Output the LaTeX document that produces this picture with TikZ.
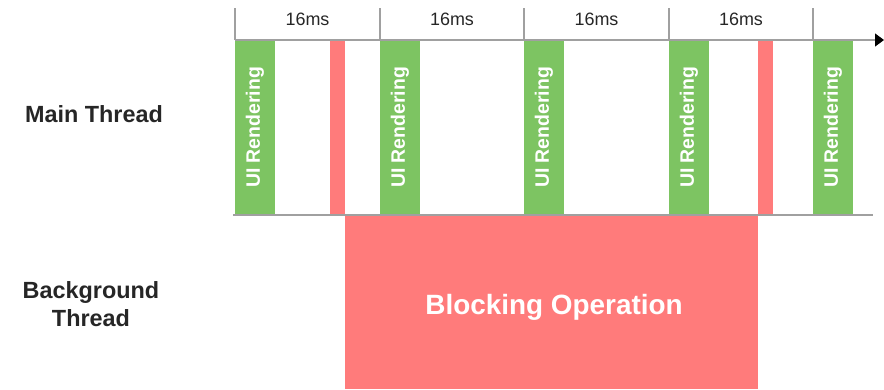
\documentclass[tikz,border=0pt]{standalone}
\usepackage{fontspec}
\setmainfont{Liberation Sans}
\usetikzlibrary{arrows.meta}
\definecolor{uigreen}{HTML}{7DC462}
\definecolor{blockred}{HTML}{FF7B7B}
\definecolor{tickgray}{HTML}{A0A0A0}
\definecolor{labelgray}{HTML}{262626}
\begin{document}
\begin{tikzpicture}[x=1bp, y=-1bp]
    \tikzstyle{ui}=[fill=uigreen, inner sep=0pt, rotate=90,
                    minimum width=175bp, minimum height=40bp, text=white,
                    font=\bfseries\fontsize{19.5}{19.5}\selectfont]
    \tikzstyle{block}=[fill=blockred, draw=none]
    \tikzstyle{tick}=[draw=tickgray, line width=1.1bp]
    \tikzstyle{ms}=[font=\fontsize{18}{18}\selectfont, text=labelgray]
    \tikzstyle{thread}=[font=\bfseries\fontsize{23.5}{28}\selectfont,
                        text=labelgray, align=center]
    \useasboundingbox (0,0) rectangle (884,389);

    % blocking work
    \fill[block] (330,40) rectangle (345,215);
    \fill[block] (758,40) rectangle (773,215);
    \node[block, inner sep=0pt, minimum width=413bp, minimum height=174bp]
          (blk) at (551.5,302) {};
    \node[text=white, font=\bfseries\fontsize{28}{28}\selectfont]
          (blktext) at (554,307) {Blocking Operation};

    % frames
    \node[ui] (f1) at (255,127.5) {UI Rendering};
    \node[ui] (f2) at (400,127.5) {UI Rendering};
    \node[ui] (f3) at (544,127.5) {UI Rendering};
    \node[ui] (f4) at (689,127.5) {UI Rendering};
    \node[ui] (f5) at (833,127.5) {UI Rendering};

    % time axis
    \draw[tick] (235,8) -- (235,40);
    \draw[tick] (380,8) -- (380,40);
    \draw[tick] (524,8) -- (524,40);
    \draw[tick] (669,8) -- (669,40);
    \draw[tick] (813,8) -- (813,40);
    \coordinate (t0) at (235,40);
    \coordinate (tend) at (884,40);
    \draw[tick, -{Triangle[length=9bp, width=13bp, color=black]}] (t0) -- (tend);
    \coordinate (b0) at (233,215);
    \coordinate (bend) at (873,215);
    \draw[tick] (b0) -- (bend);

    \node[ms] (d1) at (307.5,19) {16ms};
    \node[ms] (d2) at (452,19) {16ms};
    \node[ms] (d3) at (596.5,19) {16ms};
    \node[ms] (d4) at (741,19) {16ms};

    \node[thread] (main) at (94,114) {Main Thread};
    \node[thread] (back) at (91,304) {Background\\Thread};
\end{tikzpicture}
\end{document}
